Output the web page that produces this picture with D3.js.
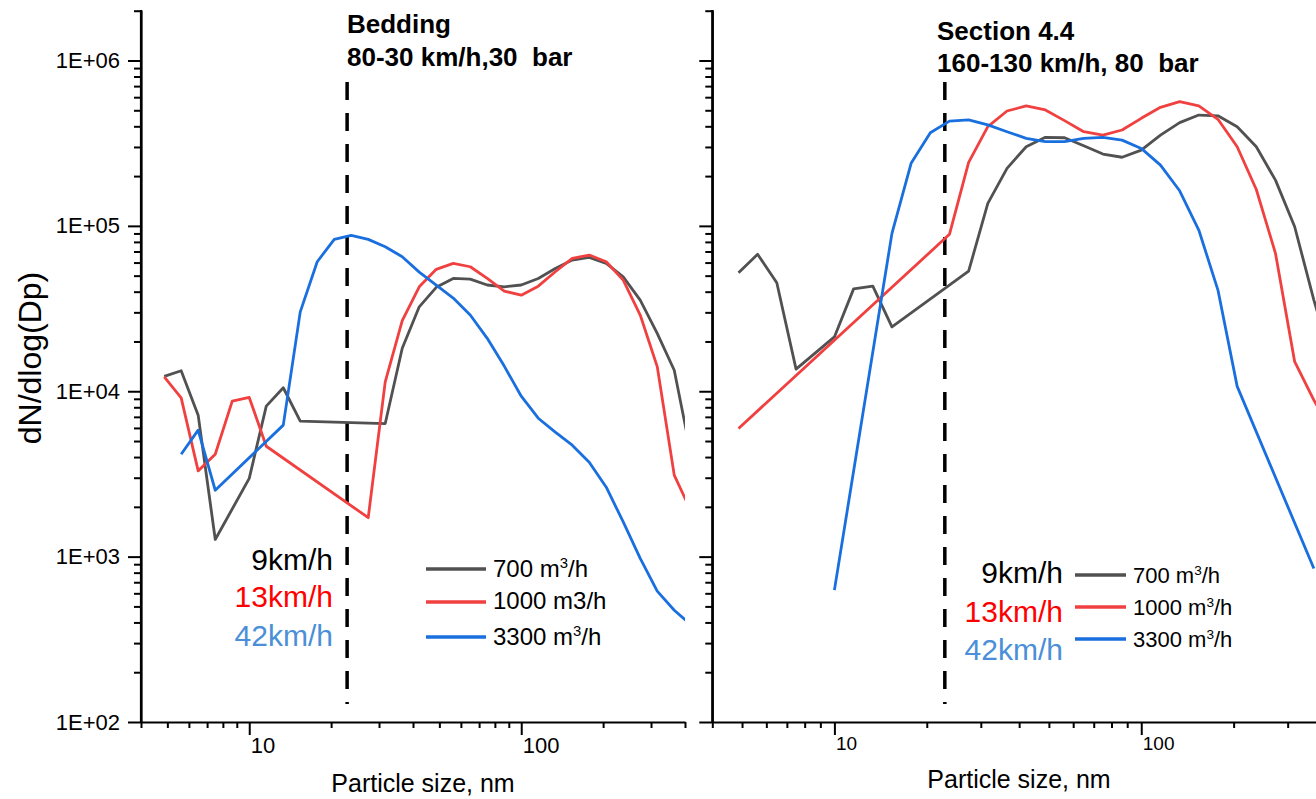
<!DOCTYPE html>
<html>
<head>
<meta charset="utf-8">
<script src="https://cdn.jsdelivr.net/npm/d3@7"></script>
<style>
  body { margin: 0; background: #fff; }
  svg { display: block; font-family: "Liberation Sans", Arial, sans-serif; }
  text { white-space: pre; }
</style>
</head>
<body>
<div id="chart"></div>
<script>
// particle size bins (nm), shared by all series
const sizes = [4.87, 5.62, 6.49, 7.50, 8.66, 10.0, 11.55, 13.34, 15.40, 17.78, 20.54,
  23.71, 27.38, 31.62, 36.52, 42.17, 48.70, 56.23, 64.94, 74.99, 86.60, 100.0,
  115.5, 133.4, 154.0, 177.8, 205.4, 237.1, 273.8, 316.2, 365.2, 421.7];

// Bedding panel, dN/dlog(Dp); null = no point in that bin
const bed700 = [12300, 13300, 7170, 1270, null, 2970, 8130, 10500, 6590, null, null,
  null, null, 6380, 18200, 32400, 42500, 48100, 47600, 43900, 42800, 43900,
  48100, 55300, 62100, 64400, 59300, 49200, 35600, 22400, 13400, 4100];
const bed1000 = [12200, 9120, 3300, 4160, 8710, 9170, 4650, null, null, null, null,
  null, 1720, 11400, 26700, 42800, 54600, 59300, 56600, 48100, 40300, 38100,
  43200, 52800, 63600, 66600, 60700, 47000, 28900, 14100, 3110, 1870];
const bed3300 = [null, 4160, 5820, 2520, null, null, null, 6240, 30200, 60700, 82900,
  87700, 82900, 74800, 65000, 52500, 43800, 36600, 28900, 20900, 14200, 9330,
  6870, 5660, 4720, 3720, 2630, 1620, 977, 618, 474, 385];

// Section 4.4 panel
const sec700 = [52000, 67300, 45300, 13600, null, 21300, 41600, 43200, 24500, null, null,
  null, 53300, 136800, 222800, 301000, 343000, 341000, 305000, 272000, 260000, 287000,
  354000, 421000, 468000, 463000, 398000, 301000, 189000, 98800, 35600, 14400];
const sec1000 = [5960, null, null, null, null, null, null, null, null, null, null,
  88900, 242000, 398000, 495000, 531000, 502000, 433000, 371000, 354000, 380000, 447000,
  521000, 564000, 531000, 441000, 301000, 166000, 68200, 15100, 8830, 5500];
const sec3300 = [null, null, null, null, null, 627, null, null, 90100, 239000, 366000,
  430000, 437000, 408000, 371000, 338000, 323000, 323000, 338000, 343000, 330000, 294000,
  233000, 163000, 94400, 40900, 10700, null, null, null, 847, null];

const flowNames = ['700', '1000', '3300'];
const speedNames = ['9km/h', '13km/h', '42km/h'];
const lineColors = ['#515151', '#F14040', '#1A6FDF'];
const speedColors = ['#000000', '#FF0000', '#4A8FD8'];
const cutSize = 22.9; // dashed marker, nm

const xMajor = [10, 100];
const xMinor = [4, 5, 6, 7, 8, 9, 20, 30, 40, 50, 60, 70, 80, 90, 200, 300, 400];
const yMajor = [1e2, 1e3, 1e4, 1e5, 1e6];
const yMinor = [];
[1e2, 1e3, 1e4, 1e5, 1e6].forEach(d => {
  for (let m = 2; m <= 9; m++) if (d * m <= 2.02e6) yMinor.push(d * m);
});

const width = 1316, height = 799;
const svg = d3.select('#chart').append('svg')
  .attr('width', width).attr('height', height);

const y = d3.scaleLog().domain([100, 2.02e6]).range([722, 10]);

const panels = [
  { x0: 141, x1: 685, series: [bed700, bed1000, bed3300], labels: true,
    title: ['Bedding', '80-30 km/h,30  bar'], titleX: 347, titleY: [33, 66],
    xFont: 22, xTitle: [423, 792],
    legend: { speedX: 333, speedY: [570, 607, 646], lineX: [426, 486], lineY: [569, 602, 637],
      textX: 493, textY: [577, 609, 645], font: 24, sup: [true, false, true] } },
  { x0: 712.3, x1: 1326, series: [sec700, sec1000, sec3300], labels: false,
    title: ['Section 4.4', '160-130 km/h, 80  bar'], titleX: 937, titleY: [40, 72],
    xFont: 19, xTitle: [1019, 788],
    legend: { speedX: 1063, speedY: [583, 622, 660], lineX: [1075, 1126], lineY: [575, 607, 639],
      textX: 1133, textY: [583, 615, 647], font: 22, sup: [true, true, true] } }
];

panels.forEach((p, pi) => {
  const x = d3.scaleLog().domain([4, 400]).range([p.x0, p.x1]);
  const g = svg.append('g');

  g.append('clipPath').attr('id', 'clip' + pi)
    .append('rect').attr('x', p.x0).attr('y', 0).attr('width', p.x1 - p.x0).attr('height', 722);

  // dashed marker
  g.append('line')
    .attr('x1', x(cutSize)).attr('x2', x(cutSize))
    .attr('y1', 82).attr('y2', 704)
    .attr('stroke', '#000').attr('stroke-width', 3.5)
    .attr('stroke-dasharray', '18,13');

  const line = d3.line()
    .x(d => x(d[0]))
    .y(d => y(d[1]));

  p.series.forEach((vals, i) => {
    const pts = sizes.map((s, j) => [s, vals[j]]).filter(d => d[1] != null);
    g.append('path')
      .attr('clip-path', `url(#clip${pi})`)
      .attr('d', line(pts))
      .attr('fill', 'none')
      .attr('stroke', lineColors[i])
      .attr('stroke-width', 2.8)
      .attr('stroke-linejoin', 'round');
  });

  // y axis
  const yMin = g.append('g').attr('transform', `translate(${p.x0},0)`)
    .call(d3.axisLeft(y).tickValues(yMinor).tickSize(7).tickSizeOuter(0).tickFormat(''));
  yMin.select('.domain').remove();
  const yAx = g.append('g').attr('transform', `translate(${p.x0},0)`)
    .call(d3.axisLeft(y).tickValues(yMajor).tickSize(13).tickSizeOuter(0).tickPadding(8)
      .tickFormat(d => p.labels ? '1E+' + String(Math.round(Math.log10(d))).padStart(2, '0') : ''));
  yAx.selectAll('text').attr('font-size', 22).attr('fill', '#000');

  // x axis
  const xMin = g.append('g').attr('transform', 'translate(0,722)')
    .call(d3.axisBottom(x).tickValues(xMinor).tickSize(6).tickSizeOuter(0).tickFormat(''));
  xMin.select('.domain').remove();
  const xAx = g.append('g').attr('transform', 'translate(0,722)')
    .call(d3.axisBottom(x).tickValues(xMajor).tickSize(13).tickSizeOuter(0).tickPadding(2)
      .tickFormat(d3.format('d')));
  xAx.selectAll('text').attr('font-size', p.xFont).attr('text-anchor', 'start').attr('x', 1).attr('fill', '#000');

  g.selectAll('.domain').attr('stroke', '#000').attr('stroke-width', 2.2);
  g.selectAll('.tick line').attr('stroke', '#000').attr('stroke-width', 2);
  // y axis line reaches the top of the frame
  g.append('line').attr('x1', p.x0).attr('x2', p.x0).attr('y1', 10).attr('y2', 723)
    .attr('stroke', '#000').attr('stroke-width', 2.2);

  // axis titles
  g.append('text')
    .attr('x', p.xTitle[0]).attr('y', p.xTitle[1])
    .attr('text-anchor', 'middle').attr('font-size', 25)
    .text('Particle size, nm');

  // titles
  p.title.forEach((t, i) => {
    g.append('text')
      .attr('x', p.titleX).attr('y', p.titleY[i])
      .attr('font-size', 26).attr('font-weight', 'bold')
      .text(t);
  });

  // legend
  const L = p.legend;
  speedNames.forEach((s, i) => {
    g.append('text')
      .attr('x', L.speedX).attr('y', L.speedY[i])
      .attr('text-anchor', 'end').attr('font-size', 30)
      .attr('fill', speedColors[i])
      .text(s);
    g.append('line')
      .attr('x1', L.lineX[0]).attr('x2', L.lineX[1])
      .attr('y1', L.lineY[i]).attr('y2', L.lineY[i])
      .attr('stroke', lineColors[i]).attr('stroke-width', 3.5);
    const t = g.append('text')
      .attr('x', L.textX).attr('y', L.textY[i])
      .attr('font-size', L.font);
    if (L.sup[i]) {
      t.append('tspan').text(flowNames[i] + ' m');
      t.append('tspan').attr('font-size', L.font * 0.62).attr('dy', -L.font * 0.38).text('3');
      t.append('tspan').attr('dy', L.font * 0.38).text('/h');
    } else {
      t.text(flowNames[i] + ' m3/h');
    }
  });
});

// y axis title
svg.append('text')
  .attr('transform', 'translate(41,358) rotate(-90)')
  .attr('text-anchor', 'middle').attr('font-size', 32)
  .text('dN/dlog(Dp)');
</script>
</body>
</html>
